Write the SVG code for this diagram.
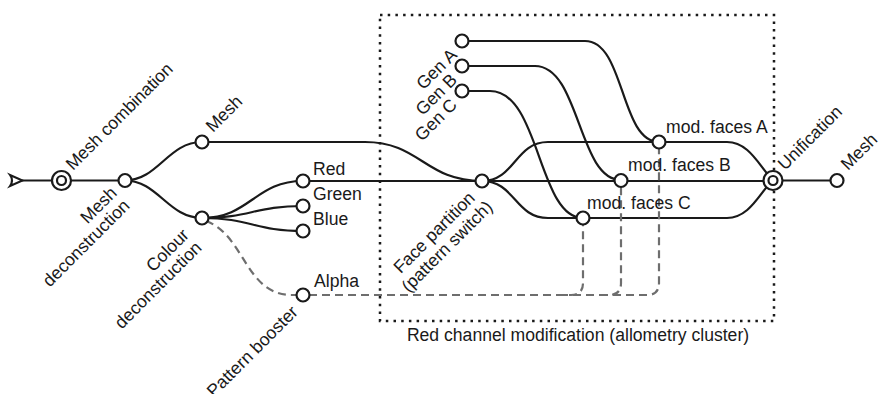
<svg xmlns="http://www.w3.org/2000/svg" width="879" height="394" viewBox="0 0 879 394">
<style>
.e{fill:none;stroke:#1a1a1a;stroke-width:2.2}
.d{fill:none;stroke:#6e6e6e;stroke-width:2.2;stroke-dasharray:8 5}
.n{fill:#fff;stroke:#1a1a1a;stroke-width:2.2}
.t{font-family:"Liberation Sans",Arial,sans-serif;font-size:17.6px;fill:#1a1a1a}
.r{text-anchor:end}
</style>
<rect x="380" y="15" width="394" height="306" fill="none" stroke="#1a1a1a" stroke-width="2.5" stroke-dasharray="2.5 5.2"/>
<text class="t" x="578" y="341" text-anchor="middle">Red channel modification (allometry cluster)</text>
<g id="connectors">
<path class="e" d="M22,180.5 H125"/>
<path class="e" d="M125,180.5 C158,180.5 168,142 202,142"/>
<path class="e" d="M125,180.5 C158,180.5 168,218 202,218"/>
<path class="e" d="M202,142 H365 C420,142 425,181 482,181"/>
<path class="e" d="M202,218 C250,218 255,181 303,181"/>
<path class="e" d="M202,218 C250,218 255,206 303,206"/>
<path class="e" d="M202,218 C250,218 255,231 303,231"/>
<path class="e" d="M303,181 H773"/>
<path class="e" d="M482,181 C515,181 515,142 548,142 H727 C750,142 760,168 773,180"/>
<path class="e" d="M482,181 C515,181 515,218 548,218 H727 C750,218 760,192 773,180"/>
<path class="e" d="M462,41 H585 C625,41 620,142 659,142"/>
<path class="e" d="M462,66 H535 C580,66 578,180 621,180"/>
<path class="e" d="M462,91 H490 C540,91 538,218 583,218"/>
<path class="e" d="M773,180.5 H837"/>
<path class="d" d="M206,221 C245,235 245,295 292,295 H309"/>
<path class="d" d="M309,295 H571 Q583,295 583,283 V224"/>
<path class="d" d="M560,295 H609 Q621,295 621,283 V186"/>
<path class="d" d="M600,295 H647 Q659,295 659,283 V148"/>
</g>
<g id="start"><path d="M10,175 L22.5,180.5 L10,186 Q14,180.5 10,175 Z" fill="none" stroke="#1a1a1a" stroke-width="2"/></g>
<g id="mesh-combination">
<circle class="n" cx="61.5" cy="180.5" r="9.5"/><circle class="n" cx="61.5" cy="180.5" r="4.5"/>
<text class="t" transform="translate(73,171) rotate(-45)">Mesh combination</text>
</g>
<g id="mesh-deconstruction">
<circle class="n" cx="125" cy="180.5" r="6.5"/>
<text class="t r" transform="translate(118,194) rotate(-45)"><tspan x="0" y="0">Mesh</tspan><tspan x="0" y="18">deconstruction</tspan></text>
</g>
<g id="mesh-top">
<circle class="n" cx="202" cy="142" r="6.5"/>
<text class="t" transform="translate(213,133) rotate(-45)">Mesh</text>
</g>
<g id="colour-deconstruction">
<circle class="n" cx="202" cy="218" r="6.5"/>
<text class="t r" transform="translate(190,236) rotate(-45)"><tspan x="0" y="0">Colour</tspan><tspan x="0" y="18">deconstruction</tspan></text>
</g>
<g id="red"><circle class="n" cx="303" cy="181" r="6.5"/><text class="t" x="313" y="175">Red</text></g>
<g id="green"><circle class="n" cx="303" cy="206" r="6.5"/><text class="t" x="313" y="200">Green</text></g>
<g id="blue"><circle class="n" cx="303" cy="231" r="6.5"/><text class="t" x="313" y="225">Blue</text></g>
<g id="alpha">
<circle class="n" cx="303" cy="295" r="6.5"/><text class="t" x="314" y="287">Alpha</text>
<text class="t r" transform="translate(299,313) rotate(-45)">Pattern booster</text>
</g>
<g id="face-partition">
<circle class="n" cx="482" cy="181" r="6.5"/>
<text class="t r" transform="translate(476,199) rotate(-45)"><tspan x="0" y="0">Face partition</tspan><tspan x="6" y="19">(pattern switch)</tspan></text>
</g>
<g id="gen-a"><circle class="n" cx="462" cy="41" r="6.5"/><text class="t r" transform="translate(458,56) rotate(-45)">Gen A</text></g>
<g id="gen-b"><circle class="n" cx="462" cy="66" r="6.5"/><text class="t r" transform="translate(458,81) rotate(-45)">Gen B</text></g>
<g id="gen-c"><circle class="n" cx="462" cy="91" r="6.5"/><text class="t r" transform="translate(458,106) rotate(-45)">Gen C</text></g>
<g id="mod-faces-a"><circle class="n" cx="659" cy="142" r="6.5"/><text class="t" x="666" y="133">mod. faces A</text></g>
<g id="mod-faces-b"><circle class="n" cx="621" cy="180.5" r="6.5"/><text class="t" x="628" y="171">mod. faces B</text></g>
<g id="mod-faces-c"><circle class="n" cx="583" cy="218" r="6.5"/><text class="t" x="587" y="209">mod. faces C</text></g>
<g id="unification">
<circle class="n" cx="773" cy="180.5" r="9.5"/><circle class="n" cx="773" cy="180.5" r="4.5"/>
<text class="t" transform="translate(785,171) rotate(-45)">Unification</text>
</g>
<g id="mesh-out">
<circle class="n" cx="837" cy="180.5" r="6.5"/>
<text class="t" transform="translate(848,171) rotate(-45)">Mesh</text>
</g>
</svg>
